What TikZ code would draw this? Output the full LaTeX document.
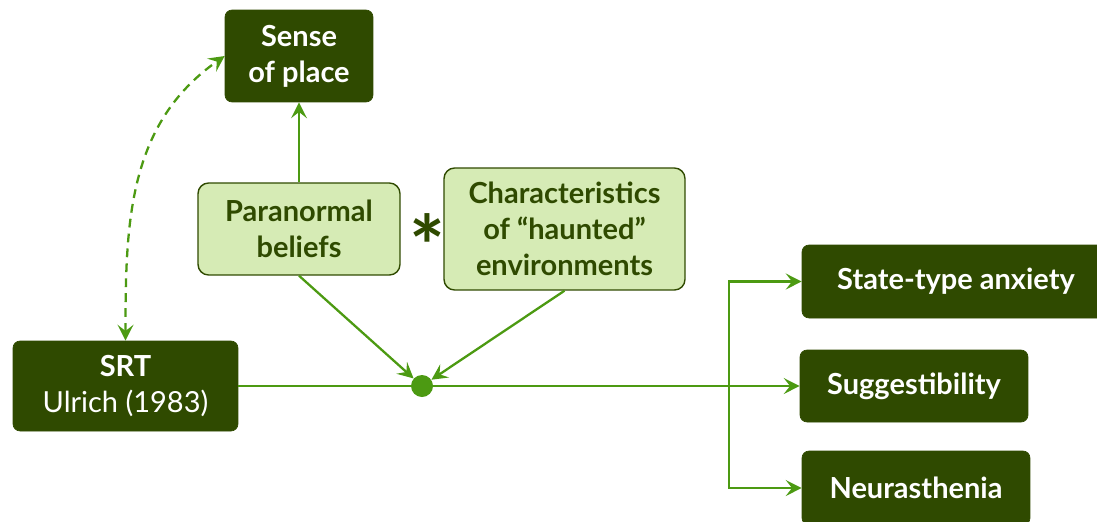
\documentclass[tikz,border=0pt]{standalone}
\usepackage{fontspec}
\setmainfont{Lato}
\usetikzlibrary{arrows.meta}

\definecolor{darkg}{HTML}{2F4A00}
\definecolor{lightg}{HTML}{D6EBB5}
\definecolor{lineg}{HTML}{4C9A12}

\begin{document}
\begin{tikzpicture}[x=0.02cm, y=-0.02cm,
    darkbox/.style={draw=darkg, fill=darkg, text=white, rounded corners=4pt, align=center, inner sep=0pt,
        font=\fontsize{16.5}{20.5}\selectfont\bfseries},
    lightbox/.style={draw=darkg, line width=0.8pt, fill=lightg, text=darkg, rounded corners=6pt, align=center, inner sep=0pt,
        font=\fontsize{16.5}{20.5}\selectfont\bfseries},
    link/.style={lineg, line width=1.3pt, -{Stealth[length=9pt,width=9pt,inset=3.5pt]}}]
    \useasboundingbox (0,0) rectangle (1097,521);

    % Boxes
    \node[darkbox, minimum width=2.96cm, minimum height=1.84cm] (sense) at (299,56) {Sense\\of place};
    \node[lightbox, minimum width=4.04cm, minimum height=1.84cm] (para) at (299,229) {Paranormal\\beliefs};
    \node[lightbox, minimum width=4.82cm, minimum height=2.44cm] (chars) at (564.5,229) {Characteristics\\of “haunted”\\environments};
    \node[text=darkg, font=\fontsize{48}{48}\selectfont\bfseries, yshift=-0.34cm] (star) at (427,229) {*};
    \node[darkbox, minimum width=4.5cm, minimum height=1.8cm] (srt) at (125.5,386) {SRT\\{\mdseries Ulrich (1983)}};
    \node[circle, fill=lineg, minimum size=0.44cm, inner sep=0pt] (dot) at (422,386) {};
    \node[darkbox, minimum width=6.16cm, minimum height=1.46cm] (state) at (956,281.5) {State-type anxiety};
    \node[darkbox, minimum width=4.56cm, minimum height=1.44cm] (sugg) at (914,386) {Suggestibility};
    \node[darkbox, minimum width=4.56cm, minimum height=1.48cm] (neur) at (916,488) {Neurasthenia};
    \coordinate (branch) at (729,386);

    % Connectors
    \draw[link] (para.north) -- (sense.south);
    \draw[link] (para.south) -- (dot);
    \draw[link] (chars.south) -- (dot);
    \draw[lineg, line width=1.3pt] (srt.east) -- (dot) -- (branch);
    \draw[link] (branch) -- (sugg.west);
    \draw[link] (branch) |- (state.west);
    \draw[link] (branch) |- (neur.west);
    \draw[lineg, line width=1.3pt, dash pattern=on 5pt off 3.5pt, {Stealth[length=9pt,width=9pt,inset=3.5pt]}-{Stealth[length=9pt,width=9pt,inset=3.5pt]}]
        (srt.north) to[out=90, in=215] (sense.west);
\end{tikzpicture}
\end{document}
